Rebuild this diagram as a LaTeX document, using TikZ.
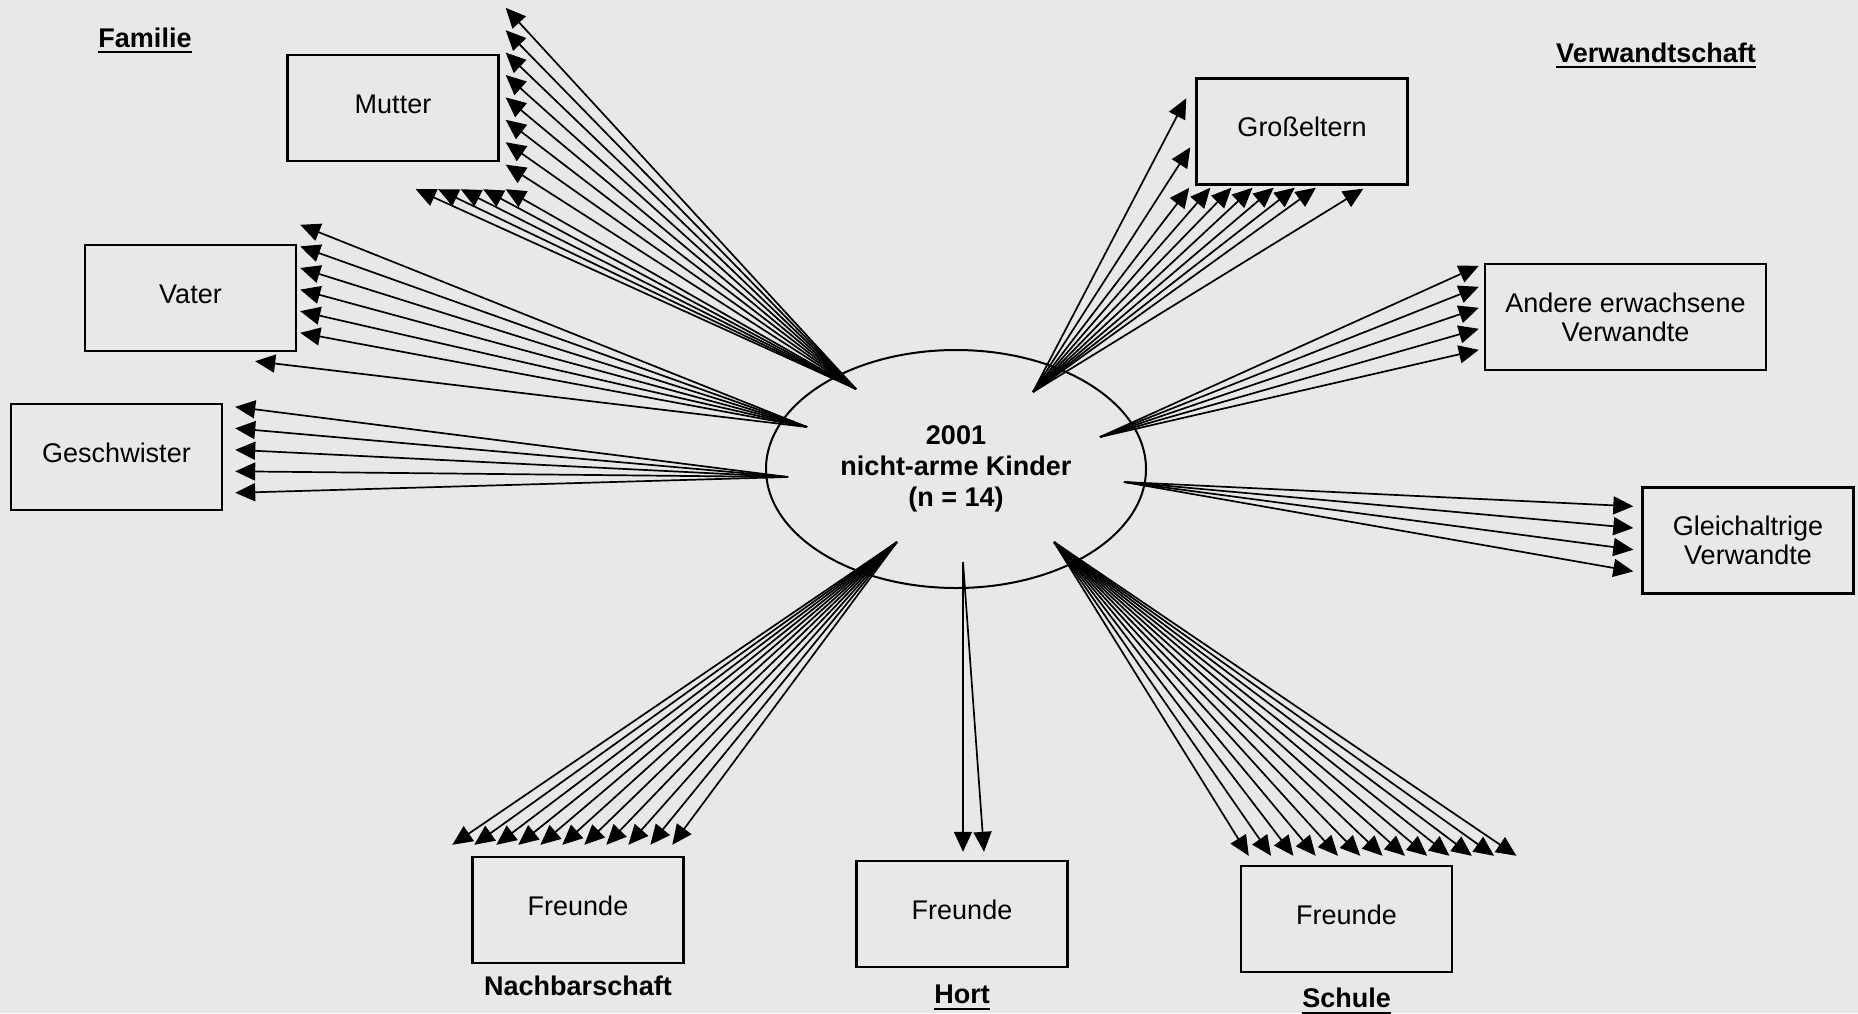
\documentclass[tikz,border=0pt]{standalone}
\usepackage{fontspec}
\setmainfont{Liberation Sans}
\usetikzlibrary{arrows.meta}
\usetikzlibrary{positioning}
\usetikzlibrary{shapes.geometric}

\definecolor{paper}{gray}{0.91}

\tikzset {
  % one arrow of a fan
  arr/.style = {
    draw = black,
    line width = 1.7pt,
    -{Triangle[length = 20pt, width = 18pt]}
  },
  % box for a group of persons
  contact/.style = {
    draw = black,
    rectangle,
    line width = 2.4pt,
    minimum width = 211pt,
    minimum height = 106pt,
    inner sep = 0,
    align = center,
    font = \fontsize{27}{29}\selectfont
  },
  % one-line box, text sits a little high
  word/.style = {
    contact,
    text height = 20pt,
    text depth = 10pt
  },
  % the children in the middle
  kids/.style = {
    draw = black,
    ellipse,
    line width = 2pt,
    minimum width = 380pt,
    minimum height = 238pt,
    inner sep = 0,
    align = center,
    font = \fontsize{27}{31}\selectfont\bfseries
  },
  % heading of a group
  group/.style = {
    inner sep = 0,
    font = \fontsize{27}{31}\selectfont\bfseries
  },
  uline/.style = {
    draw = black,
    line width = 2.8pt
  },
  node distance = 14pt
}

\begin{document}
\begin{tikzpicture}[x = 1pt, y = -1pt]
    \useasboundingbox (0, 0) rectangle (1858, 1013);
    \fill[paper] (0, 0) rectangle (1858, 1013);

    \node[kids] (kids) at (956, 469) {2001\\nicht-arme Kinder\\(n = 14)};

    \node[word] (mutter) at (393, 108) {Mutter};
    \node[word] (vater) at (190.5, 298) {Vater};
    \node[word] (geschwister) at (116.5, 457) {Geschwister};
    \node[word] (grosseltern) at (1302, 131.5) {Großeltern};
    \node[contact, minimum width = 281pt] (andere) at (1625.5, 317) {Andere erwachsene\\Verwandte};
    \node[contact] (gleich) at (1748, 540.5) {Gleichaltrige\\Verwandte};
    \node[word] (nachbar) at (578, 910) {Freunde};
    \node[word] (hort) at (962, 914) {Freunde};
    \node[word] (schule) at (1346.5, 919) {Freunde};

    \node[group, anchor = base] (familie) at (145, 47) {Familie};
    \node[group, anchor = base] (verwandtschaft) at (1656, 62) {Verwandtschaft};
    \node[group, below = 12pt of nachbar] (nachbarschaft) {Nachbarschaft};
    \node[group, below = 17pt of hort] (hortname) {Hort};
    \node[group, below = 15pt of schule] (schulname) {Schule};

    \draw[uline] ([yshift = -5pt]familie.base west) -- ([yshift = -5pt]familie.base east);
    \draw[uline] ([yshift = -5pt]verwandtschaft.base west) -- ([yshift = -5pt]verwandtschaft.base east);
    \draw[uline] ([yshift = -5pt]hortname.base west) -- ([yshift = -5pt]hortname.base east);
    \draw[uline] ([yshift = -5pt]schulname.base west) -- ([yshift = -5pt]schulname.base east);

    \coordinate (from-mutter) at (856, 389);
    \coordinate (from-vater) at (807, 427);
    \coordinate (from-geschwister) at (788, 477);
    \coordinate (from-grosseltern) at (1033, 392);
    \coordinate (from-andere) at (1100, 437);
    \coordinate (from-gleich) at (1124, 482);
    \coordinate (from-nachbar) at (897, 542);
    \coordinate (from-hort) at (963, 562);
    \coordinate (from-schule) at (1054, 542);

    \foreach \i in {0, ..., 7}
      \draw[arr] (from-mutter) -- ([shift = {(6, -46 + 22.4 * \i)}]mutter.north east);
    \foreach \i in {0, ..., 4}
      \draw[arr] (from-mutter) -- ([shift = {(-84 + 22.5 * \i, 27)}]mutter.south east);

    \foreach \i in {0, ..., 5}
      \draw[arr] (from-vater) -- ([shift = {(3, -19 + 21.6 * \i)}]vater.north east);
    \draw[arr] (from-vater) -- ([shift = {(-42, 9)}]vater.south east);

    \foreach \i in {0, ..., 4}
      \draw[arr] (from-geschwister) -- ([shift = {(12, 4 + 21.5 * \i)}]geschwister.north east);

    \draw[arr] (from-grosseltern) -- ([shift = {(-9, 21)}]grosseltern.north west);
    \draw[arr] (from-grosseltern) -- ([shift = {(-5, 70)}]grosseltern.north west);
    \foreach \i in {0, ..., 6}
      \draw[arr] (from-grosseltern) -- ([shift = {(-6 + 21.1 * \i, 2)}]grosseltern.south west);
    \draw[arr] (from-grosseltern) -- ([shift = {(168, 3)}]grosseltern.south west);

    \foreach \i in {0, ..., 4}
      \draw[arr] (from-andere) -- ([shift = {(-5, 3 + 21 * \i)}]andere.north west);

    \foreach \i in {0, ..., 3}
      \draw[arr] (from-gleich) -- ([shift = {(-8, 20 + 21.7 * \i)}]gleich.north west);

    \foreach \i in {0, ..., 10}
      \draw[arr] (from-nachbar) -- ([shift = {(-19 + 22 * \i, -11)}]nachbar.north west);

    \draw[arr] (from-hort) -- ([shift = {(1, -8)}]hort.north);
    \draw[arr] (from-hort) -- ([shift = {(22, -8)}]hort.north);

    \foreach \i in {0, ..., 12}
      \draw[arr] (from-schule) -- ([shift = {(9 + 22.3 * \i, -9)}]schule.north west);
\end{tikzpicture}
\end{document}
